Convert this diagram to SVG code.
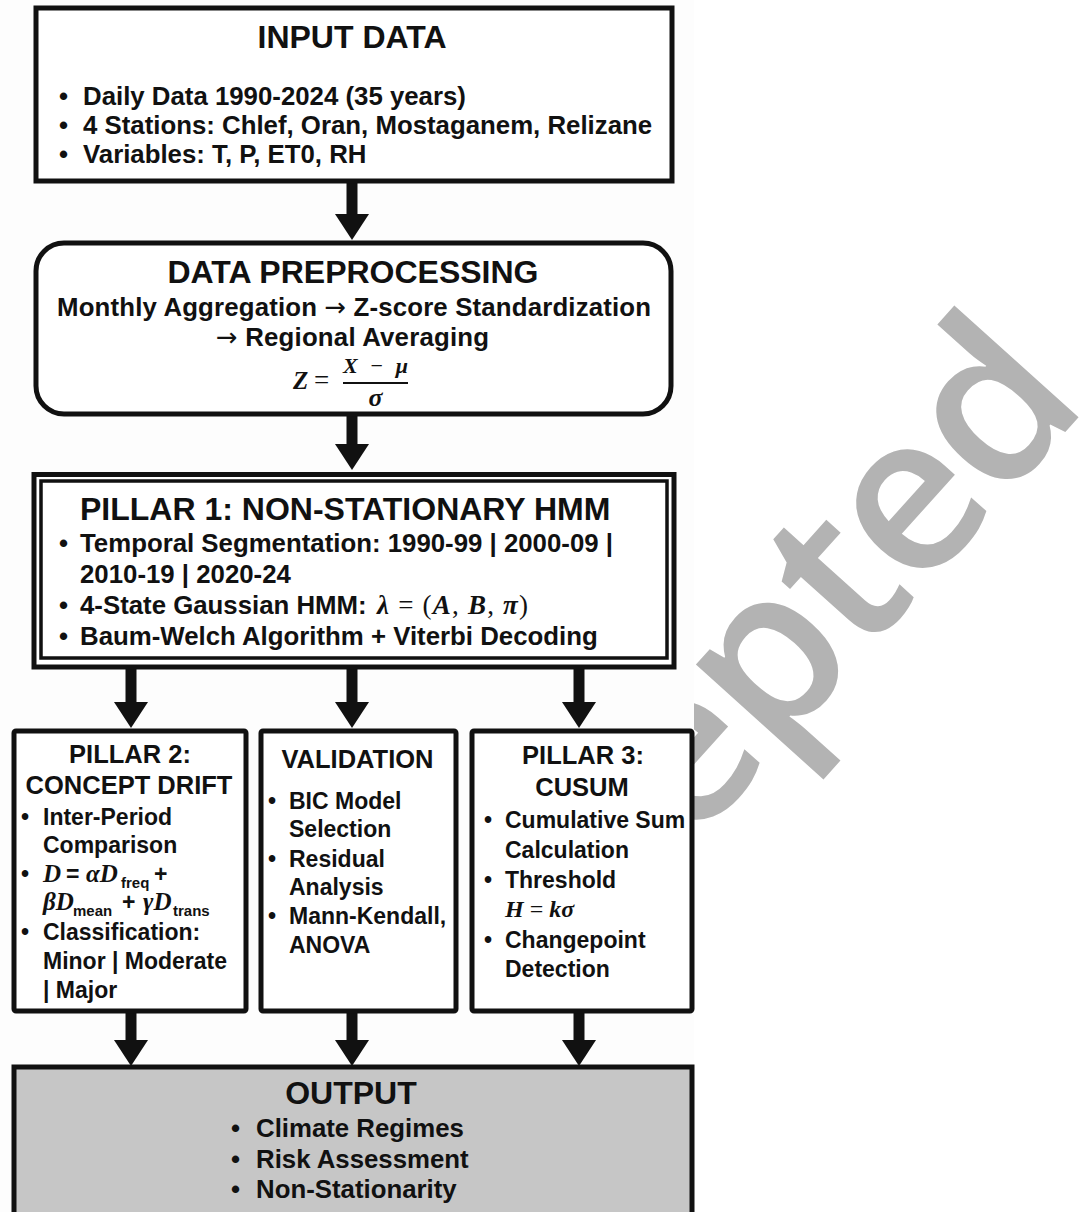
<svg xmlns="http://www.w3.org/2000/svg" width="1091" height="1212" viewBox="0 0 1091 1212">
<style>
.box{fill:#ffffff;stroke:#111;stroke-width:5}
.t{font-family:'Liberation Sans',Arial,sans-serif;font-weight:bold;fill:#111}
.h1{font-size:32px}
.h2{font-size:25.5px}
.b{font-size:25.8px}
.s{font-size:23px}
.sub{font-size:15px}
.arr{font-family:'DejaVu Sans',sans-serif;font-weight:normal}
.mi{font-family:'Liberation Serif','Times New Roman',serif;font-style:italic;font-weight:bold;fill:#111}
.mr{font-family:'Liberation Serif','Times New Roman',serif;font-style:normal;font-weight:normal;fill:#111}
.conn line{stroke:#111;stroke-width:11}
.wm{font-family:'Open Sans','DejaVu Sans',sans-serif;font-weight:600;font-size:220px;fill:#b3b3b3;letter-spacing:-4px}
</style>
<defs>
<marker id="ah" viewBox="0 0 26 34" refX="0" refY="17" markerWidth="26" markerHeight="34" orient="auto" markerUnits="userSpaceOnUse">
<path d="M0,0 L26,17 L0,34 Z" fill="#111"/>
</marker>
<clipPath id="wmclip"><rect x="694" y="0" width="397" height="1212"/></clipPath>
</defs>
<rect x="0" y="0" width="1091" height="1212" fill="#ffffff"/>
<g id="watermark" clip-path="url(#wmclip)">
<text class="wm" x="1088" y="407" text-anchor="end" transform="rotate(-48 1088 407)">Accepted</text>
</g>
<rect x="0" y="0" width="694" height="1212" fill="#fdfdfd"/>

<g id="connectors" class="conn">
<line x1="352" y1="183" x2="352" y2="214" marker-end="url(#ah)"/>
<line x1="352" y1="416" x2="352" y2="444" marker-end="url(#ah)"/>
<line x1="131" y1="669" x2="131" y2="702" marker-end="url(#ah)"/>
<line x1="352" y1="669" x2="352" y2="702" marker-end="url(#ah)"/>
<line x1="579" y1="669" x2="579" y2="702" marker-end="url(#ah)"/>
<line x1="131" y1="1013" x2="131" y2="1040" marker-end="url(#ah)"/>
<line x1="352" y1="1013" x2="352" y2="1040" marker-end="url(#ah)"/>
<line x1="579" y1="1013" x2="579" y2="1040" marker-end="url(#ah)"/>
</g>

<g id="input-data">
<rect class="box" x="36" y="8" width="636" height="173"/>
<text class="t h1" x="352" y="48" text-anchor="middle">INPUT DATA</text>
<text class="t b" y="105"><tspan x="59">•</tspan><tspan x="83">Daily Data 1990-2024 (35 years)</tspan></text>
<text class="t b" y="134"><tspan x="59">•</tspan><tspan x="83">4 Stations: Chlef, Oran, Mostaganem, Relizane</tspan></text>
<text class="t b" y="163"><tspan x="59">•</tspan><tspan x="83">Variables: T, P, ET0, RH</tspan></text>
</g>

<g id="data-preprocessing">
<rect class="box" x="36" y="243" width="635" height="171" rx="28"/>
<text class="t h1" x="353" y="283" text-anchor="middle">DATA PREPROCESSING</text>
<text class="t b" x="57" y="316" textLength="594">Monthly Aggregation <tspan class="arr">→</tspan> Z-score Standardization</text>
<text class="t b" x="216" y="346" textLength="273"><tspan class="arr">→</tspan> Regional Averaging</text>
<text class="mi" x="293" y="389" font-size="25">Z</text>
<text class="mr" x="314" y="389" font-size="27">=</text>
<text class="mi" x="343" y="373" font-size="22" textLength="65">X <tspan class="mr">−</tspan> μ</text>
<line x1="343" y1="383" x2="408" y2="383" stroke="#111" stroke-width="2.2"/>
<text class="mi" x="375.5" y="406" font-size="26" text-anchor="middle">σ</text>
</g>

<g id="pillar-1">
<rect x="34" y="474.5" width="640" height="192.5" fill="#ffffff" stroke="#111" stroke-width="5"/>
<rect x="41" y="481" width="626" height="177" fill="none" stroke="#111" stroke-width="3.5"/>
<text class="t h1" x="80" y="520">PILLAR 1: NON-STATIONARY HMM</text>
<text class="t b" y="552"><tspan x="59">•</tspan><tspan x="80">Temporal Segmentation: 1990-99 | 2000-09 |</tspan></text>
<text class="t b" x="80" y="583">2010-19 | 2020-24</text>
<text class="t b" y="614"><tspan x="59">•</tspan><tspan x="80">4-State Gaussian HMM:</tspan></text>
<text class="mi" x="377" y="614" font-size="27" textLength="151">λ<tspan class="mr"> = (</tspan>A<tspan class="mr">, </tspan>B<tspan class="mr">, </tspan>π<tspan class="mr">)</tspan></text>
<text class="t b" y="645"><tspan x="59">•</tspan><tspan x="80">Baum-Welch Algorithm + Viterbi Decoding</tspan></text>
</g>

<g id="pillar-2">
<rect class="box" x="14" y="731" width="232" height="280" rx="2"/>
<text class="t h2" x="130" y="763" text-anchor="middle">PILLAR 2:</text>
<text class="t h2" x="129" y="794" text-anchor="middle">CONCEPT DRIFT</text>
<text class="t s" y="825"><tspan x="21">•</tspan><tspan x="43">Inter-Period</tspan></text>
<text class="t s" x="43" y="853">Comparison</text>
<text class="t s" y="882"><tspan x="21">•</tspan></text>
<text class="mi" x="43" y="882" font-size="25">D</text>
<text class="t s" x="66" y="882">=</text>
<text class="mi" x="86" y="882" font-size="25">αD</text>
<text class="t sub" x="121" y="888">freq</text>
<text class="t s" x="154" y="882">+</text>
<text class="mi" x="43" y="910" font-size="25">βD</text>
<text class="t sub" x="73" y="916">mean</text>
<text class="t s" x="122" y="910">+</text>
<text class="mi" x="143" y="910" font-size="25">γD</text>
<text class="t sub" x="173" y="916">trans</text>
<text class="t s" y="940"><tspan x="21">•</tspan><tspan x="43">Classification:</tspan></text>
<text class="t s" x="43" y="969">Minor | Moderate</text>
<text class="t s" x="43" y="998">| Major</text>
</g>

<g id="validation">
<rect class="box" x="261" y="731" width="195" height="280" rx="2"/>
<text class="t h2" x="357.5" y="768" text-anchor="middle">VALIDATION</text>
<text class="t s" y="809"><tspan x="268">•</tspan><tspan x="289">BIC Model</tspan></text>
<text class="t s" x="289" y="837">Selection</text>
<text class="t s" y="867"><tspan x="268">•</tspan><tspan x="289">Residual</tspan></text>
<text class="t s" x="289" y="895">Analysis</text>
<text class="t s" y="924"><tspan x="268">•</tspan><tspan x="289">Mann-Kendall,</tspan></text>
<text class="t s" x="289" y="953">ANOVA</text>
</g>

<g id="pillar-3">
<rect class="box" x="472" y="731" width="220" height="280" rx="2"/>
<text class="t h2" x="583" y="764" text-anchor="middle">PILLAR 3:</text>
<text class="t h2" x="582" y="796" text-anchor="middle">CUSUM</text>
<text class="t s" y="828"><tspan x="484">•</tspan><tspan x="505">Cumulative Sum</tspan></text>
<text class="t s" x="505" y="858">Calculation</text>
<text class="t s" y="888"><tspan x="484">•</tspan><tspan x="505">Threshold</tspan></text>
<text class="mi" x="505" y="917" font-size="24">H<tspan class="mr"> = </tspan>kσ</text>
<text class="t s" y="948"><tspan x="484">•</tspan><tspan x="505">Changepoint</tspan></text>
<text class="t s" x="505" y="977">Detection</text>
</g>

<g id="output">
<rect x="14" y="1067" width="678" height="200" fill="#c6c6c6" stroke="#111" stroke-width="5"/>
<text class="t h1" x="351" y="1104" text-anchor="middle">OUTPUT</text>
<text class="t b" y="1137"><tspan x="231">•</tspan><tspan x="256">Climate Regimes</tspan></text>
<text class="t b" y="1168"><tspan x="231">•</tspan><tspan x="256">Risk Assessment</tspan></text>
<text class="t b" y="1198"><tspan x="231">•</tspan><tspan x="256">Non-Stationarity</tspan></text>
</g>
</svg>
